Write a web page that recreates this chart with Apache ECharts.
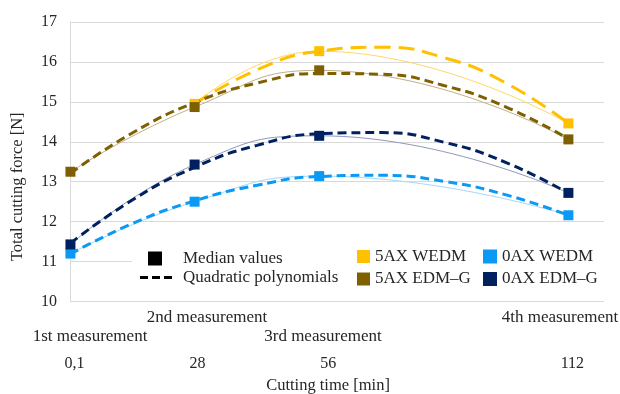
<!DOCTYPE html>
<html>
<head>
<meta charset="utf-8">
<script src="https://cdn.jsdelivr.net/npm/echarts@6/dist/echarts.min.js"></script>
<style>html,body{margin:0;padding:0;background:#fff}#c{width:620px;height:394px}</style>
</head>
<body>
<div id="c"></div>
<script>
// Cutting time [min]
const times = [0.1, 28, 56, 112];
const tickLabels = ['0,1', '28', '56', '112'];
const measurementLabels = ['1st measurement', '2nd measurement', '3rd measurement', '4th measurement'];

// Median values [N]
const median5axWedm = [null, 14.95, 16.27, 14.46];
const median5axEdmG = [13.25, 14.87, 15.79, 14.06];
const median0axWedm = [11.20, 12.50, 13.14, 12.16];
const median0axEdmG = [11.43, 13.43, 14.15, 12.72];

// Quadratic polynomial curves
const fitTimes = [0.1, 14, 28, 42, 56, 70, 84, 98, 112];
const fit5axWedm = [null, null, 14.95, 15.80, 16.27, 16.37, 16.11, 15.47, 14.46];
const fit5axEdmG = [13.21, 14.22, 14.98, 15.47, 15.71, 15.69, 15.41, 14.87, 14.07];
const fit0axWedm = [11.19, 11.95, 12.52, 12.91, 13.13, 13.16, 13.01, 12.67, 12.16];
const fit0axEdmG = [11.46, 12.54, 13.36, 13.91, 14.20, 14.23, 13.99, 13.48, 12.71];

const names = ['5AX WEDM', '5AX EDM–G', '0AX WEDM', '0AX EDM–G'];
const medians = [median5axWedm, median5axEdmG, median0axWedm, median0axEdmG];
const fits = [fit5axWedm, fit5axEdmG, fit0axWedm, fit0axEdmG];
const colors = ['#FFC000', '#7F6000', '#0A99F5', '#002060'];
const thinColors = ['#FFD966', '#BFB08A', '#A6D8FA', '#8E99B8'];
const dashes = [[16, 8], [9, 5], [9, 5], [9, 5]];

const FONT = 'Liberation Serif';
const TXT = '#262626';

function pairs(xs, ys) {
  return xs.map((x, i) => [x, ys[i]]).filter(p => p[1] != null);
}

const series = [];
names.forEach((n, i) => {
  series.push({
    name: n + ' line', type: 'line', smooth: 0.5, z: 2, silent: true,
    showSymbol: false, symbol: 'none',
    lineStyle: { width: 1, color: thinColors[i] },
    data: pairs(times, medians[i])
  });
});
names.forEach((n, i) => {
  series.push({
    name: n + ' fit', type: 'line', smooth: true, z: 3, silent: true,
    showSymbol: false, symbol: 'none',
    lineStyle: { width: 3, color: colors[i], type: dashes[i], cap: 'butt' },
    data: pairs(fitTimes, fits[i])
  });
});
names.forEach((n, i) => {
  series.push({
    name: n, type: 'scatter', z: 4, symbol: 'rect', symbolSize: 10,
    itemStyle: { color: colors[i], opacity: 1 },
    data: pairs(times, medians[i])
  });
});
series.push({ name: 'Median values', type: 'scatter', itemStyle: { color: '#000', opacity: 1 }, data: [] });
series.push({ name: 'Quadratic polynomials', type: 'line', color: '#000', itemStyle: { color: '#000' }, lineStyle: { type: 'dashed', color: '#000' }, data: [] });

const legendText = { fontFamily: FONT, fontSize: 17, color: TXT };
const tickRich = {
  t0: { padding: [0, 0, 0, 8] },
  t1: { padding: [0, 0, 0, 6] },
  t2: { padding: [0, 0, 0, 18] },
  t3: { padding: [0, 0, 0, 8] }
};

const chart = echarts.init(document.getElementById('c'), null, { renderer: 'canvas' });
chart.setOption({
  animation: false,
  backgroundColor: '#fff',
  grid: { left: 70, right: 16, top: 22, bottom: 92.5, containLabel: false, outerBoundsMode: 'none' },
  xAxis: {
    type: 'value', min: 0, max: 120,
    splitLine: { show: false },
    axisLine: { show: false },
    axisTick: { show: false },
    axisLabel: {
      customValues: times,
      formatter: v => { const i = times.indexOf(v); return '{t' + i + '|' + tickLabels[i] + '}'; },
      rich: tickRich,
      margin: 54, fontFamily: FONT, fontSize: 16, color: TXT
    },
    name: 'Cutting time [min]', nameLocation: 'middle', nameGap: 76,
    nameTextStyle: { fontFamily: FONT, fontSize: 16.5, color: TXT, padding: [0, 18, 0, 0] }
  },
  yAxis: {
    type: 'value', min: 10, max: 17, interval: 1,
    axisLine: { show: true, lineStyle: { color: '#d9d9d9' } },
    axisTick: { show: false },
    splitLine: { lineStyle: { color: '#d9d9d9' } },
    axisLabel: { margin: 13, fontFamily: FONT, fontSize: 16, color: TXT },
    name: 'Total cutting force [N]', nameLocation: 'middle', nameGap: 44,
    nameTextStyle: { fontFamily: FONT, fontSize: 16.5, color: TXT, padding: [0, 50, 0, 0] }
  },
  legend: [
    { data: [{ name: 'Median values', icon: 'rect' }], left: 148, top: 250, padding: 0,
      itemWidth: 14, itemHeight: 14, selectedMode: false,
      textStyle: Object.assign({}, legendText, { padding: [0, 0, 0, 16] }) },
    { data: [{ name: 'Quadratic polynomials', icon: 'path://M0,0h8v3h-8z M12,0h8v3h-8z M24,0h8v3h-8z' }],
      left: 140, top: 269, padding: 0, itemWidth: 32, itemHeight: 3, selectedMode: false,
      textStyle: Object.assign({}, legendText, { padding: [0, 0, 0, 6] }) },
    { data: [{ name: '5AX WEDM', icon: 'rect' }, { name: '5AX EDM–G', icon: 'rect' }],
      orient: 'vertical', left: 357, top: 248, padding: 0, itemGap: 5.5,
      itemWidth: 13, itemHeight: 13, selectedMode: false, textStyle: legendText },
    { data: [{ name: '0AX WEDM', icon: 'rect' }, { name: '0AX EDM–G', icon: 'rect' }],
      orient: 'vertical', left: 483, top: 248, padding: 0, itemGap: 5.5,
      itemWidth: 14, itemHeight: 14, selectedMode: false, textStyle: legendText }
  ],
  graphic: [
    { type: 'rect', z: 1, shape: { x: 132, y: 231, width: 472, height: 67 }, style: { fill: '#fff' } },
    { type: 'text', x: 90, y: 337, style: { text: measurementLabels[0], font: '17px "' + FONT + '"', fill: TXT, align: 'center', verticalAlign: 'middle' } },
    { type: 'text', x: 207, y: 318, style: { text: measurementLabels[1], font: '17px "' + FONT + '"', fill: TXT, align: 'center', verticalAlign: 'middle' } },
    { type: 'text', x: 323, y: 337, style: { text: measurementLabels[2], font: '17px "' + FONT + '"', fill: TXT, align: 'center', verticalAlign: 'middle' } },
    { type: 'text', x: 560, y: 318, style: { text: measurementLabels[3], font: '17px "' + FONT + '"', fill: TXT, align: 'center', verticalAlign: 'middle' } }
  ],
  series: series
});
</script>
</body>
</html>
